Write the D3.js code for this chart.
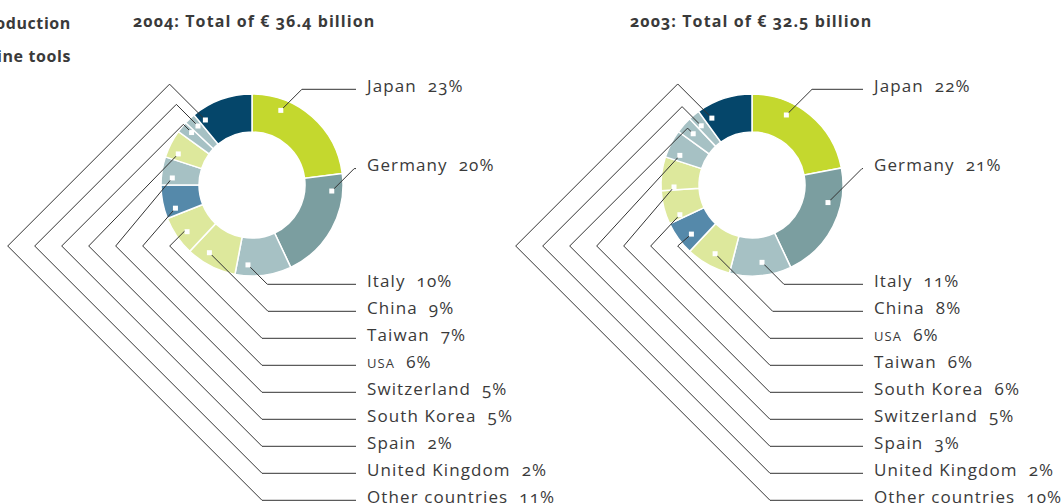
<!DOCTYPE html>
<html>
<head>
<meta charset="utf-8">
<script src="https://cdn.jsdelivr.net/npm/d3@7"></script>
<style>
  body { margin: 0; background: #fff; }
  svg { display: block; }
  text { font-family: "Open Sans", "Noto Sans", sans-serif; fill: #3a3a3a; }
  .title { font-weight: bold; font-size: 16px; letter-spacing: 1.1px; font-variant-numeric: oldstyle-nums; }
  .heading { font-weight: bold; font-size: 16px; letter-spacing: 0.6px; }
  .label { font-size: 17px; letter-spacing: 1.1px; font-variant-numeric: oldstyle-nums; }
  .leader { fill: none; stroke: #333; stroke-width: 1; }
</style>
</head>
<body>
<svg id="chart"></svg>
<script>
  // data
  var countries2004 = ['Japan', 'Germany', 'Italy', 'China', 'Taiwan', 'USA', 'Switzerland',
    'South Korea', 'Spain', 'United Kingdom', 'Other countries'];
  var shares2004 = [23, 20, 10, 9, 7, 6, 5, 5, 2, 2, 11];
  var countries2003 = ['Japan', 'Germany', 'Italy', 'China', 'USA', 'Taiwan', 'South Korea',
    'Switzerland', 'Spain', 'United Kingdom', 'Other countries'];
  var shares2003 = [22, 21, 11, 8, 6, 6, 6, 5, 3, 2, 10];
  var totals = ['36.4', '32.5'];
  var years = ['2004', '2003'];

  // where the little square sits inside each slice (fraction of the slice angle)
  var anchor2004 = [0.255, 0.16, 0.78, 0.66, 0.44, 0.22, 0.28, 0.27, 0.69, 0.6, 0.10];
  var anchor2003 = [0.33, 0.315, 0.45, 0.48, 0.36, 0.13, 0.1, 0.24, 0.47, 0.36, 0.14];

  var width = 1063, height = 503;
  var svg = d3.select('#chart').attr('width', width).attr('height', height);

  var color = d3.scaleOrdinal()
    .domain(['Japan', 'Germany', 'Italy', 'China', 'Taiwan', 'USA', 'Switzerland',
      'South Korea', 'Spain', 'United Kingdom', 'Other countries'])
    .range(['#c4d82e', '#7b9ea0', '#a6c1c4', '#dde89c', '#dde89c', '#5589aa', '#a6c1c4',
      '#dde89c', '#a6c1c4', '#a6c1c4', '#05466a']);

  var panels = [
    {names: countries2004, values: shares2004, anchors: anchor2004, cx: 252, titleX: 133,
      lineEnd: 356, hStart: 262, markR: 80},
    {names: countries2003, values: shares2003, anchors: anchor2003, cx: 752, titleX: 630,
      lineEnd: 863, hStart: 770, markR: 78}
  ];
  var cy = 185, innerR = 53, outerR = 91, vertexY = 246;

  // label baselines
  var topY = [91.7, 171];
  var listY = d3.scaleLinear().domain([0, 8]).range([286.7, 502.7]);

  // cut-off heading on the left edge
  svg.append('text').attr('class', 'heading').attr('x', 71).attr('y', 29)
    .attr('text-anchor', 'end').text('World production');
  svg.append('text').attr('class', 'heading').attr('x', 71).attr('y', 61.5)
    .attr('text-anchor', 'end').text('of machine tools');

  var pie = d3.pie().sort(null).value((d) => d);
  var arc = d3.arc().innerRadius(innerR).outerRadius(outerR);

  panels.forEach((p, k) => {
    svg.append('text').attr('class', 'title').attr('x', p.titleX).attr('y', 26.5)
      .text(years[k] + ': Total of € ' + totals[k] + ' billion');

    var arcs = pie(p.values);
    var g = svg.append('g').attr('transform', 'translate(' + p.cx + ',' + cy + ')');
    g.selectAll('path').data(arcs).enter().append('path')
      .attr('d', arc)
      .attr('fill', (d, i) => color(p.names[i]))
      .attr('stroke', '#fff').attr('stroke-width', 1.5);

    var marks = arcs.map((d, i) => {
      var a = d.startAngle + (d.endAngle - d.startAngle) * p.anchors[i];
      return [p.cx + p.markR * Math.sin(a), cy - p.markR * Math.cos(a)];
    });

    var leaders = marks.map((m, i) => {
      var base = i < 2 ? topY[i] : listY(i - 2);
      var ly = base - 2.4;
      var pts = [m];
      if (i < 2) {
        pts.push([m[0] + (m[1] - ly), ly]);
      } else if ((m[0] - p.cx) + (m[1] - cy) >= 0) {
        pts.push([m[0] + (ly - m[1]), ly]);
      } else {
        var vx = p.hStart - (ly - vertexY);
        var dx = m[0] - vx, dy = m[1] - vertexY;
        var t = (dx - dy) / 2, s = (dx + dy) / 2;
        if (s > 1) pts.push([vx + t, vertexY - t]);
        pts.push([vx, vertexY]);
        pts.push([p.hStart, ly]);
      }
      pts.push([p.lineEnd, ly]);
      return {pts: pts, base: base};
    });

    svg.append('g').selectAll('path').data(leaders).enter().append('path')
      .attr('class', 'leader')
      .attr('d', (d) => d3.line()(d.pts));

    svg.append('g').selectAll('rect').data(marks).enter().append('rect')
      .attr('x', (d) => d[0] - 2.5).attr('y', (d) => d[1] - 2.5)
      .attr('width', 5).attr('height', 5).attr('fill', '#fff');

    var lab = svg.append('g').selectAll('text').data(leaders).enter().append('text')
      .attr('class', 'label')
      .attr('x', p.lineEnd + 11)
      .attr('y', (d) => d.base);
    lab.append('tspan')
      .attr('font-size', (d, i) => p.names[i] === 'USA' ? '13px' : null)
      .text((d, i) => p.names[i]);
    lab.append('tspan').attr('dx', 11).text((d, i) => p.values[i] + '%');
  });
</script>
</body>
</html>
